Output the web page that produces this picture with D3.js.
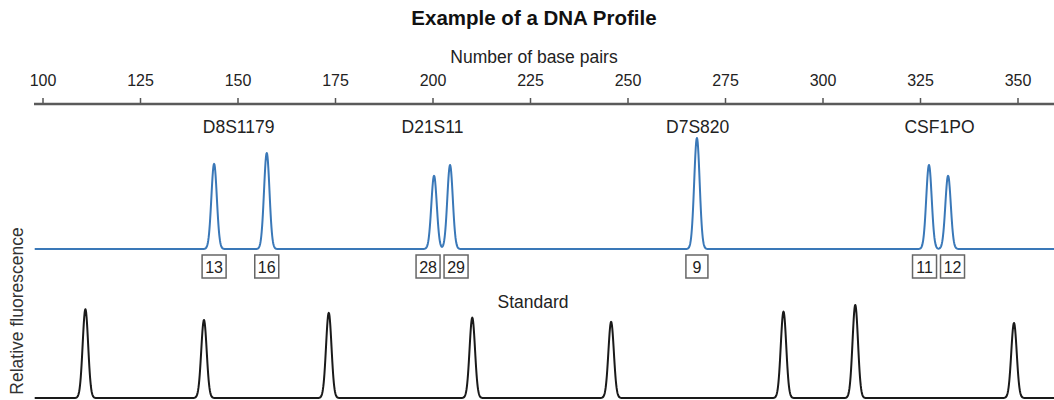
<!DOCTYPE html>
<html>
<head>
<meta charset="utf-8">
<script src="https://cdn.jsdelivr.net/npm/d3@7"></script>
<style>
  body { margin:0; background:#fff; }
  svg { display:block; font-family:"Liberation Sans", Arial, sans-serif; }
</style>
</head>
<body>
<div id="chart"></div>
<script>
//DATA
//Axis ticks (base pairs)
const tickValues = [100, 125, 150, 175, 200, 225, 250, 275, 300, 325, 350];

//Sample peaks (blue trace)
const sampleBp     = [144.0, 157.5, 200.4, 204.5, 267.8, 327.3, 332.2];
const sampleHeight = [710, 800, 610, 700, 925, 700, 610];
const sampleAllele = ["13", "16", "28", "29", "9", "11", "12"];

//Loci names and where they sit
const lociNames = ["D8S1179", "D21S11", "D7S820", "CSF1PO"];
const lociBp    = [150.3, 200, 268, 330];

//Standard ladder peaks (black trace)
const standardBp     = [111.0, 141.4, 173.4, 210.2, 245.8, 290.0, 308.4, 349.1];
const standardHeight = [740, 650, 710, 670, 635, 720, 775, 625];

//LAYOUT AND SIZING
const W = 1054, H = 400;
const axisY = 104;
const blueBase = 249;
const blackBase = 398;
const peakPx = 120;      // pixels for 1000 units of fluorescence
const sigma = 0.7;       // peak width in base pairs

const svg = d3.select("#chart").append("svg")
  .attr("width", W).attr("height", H);

//Scales
const x = d3.scaleLinear().domain([100, 350]).range([42.5, 1017.5]);
const yBlue  = d3.scaleLinear().domain([0, 1000]).range([blueBase, blueBase - peakPx]);
const yBlack = d3.scaleLinear().domain([0, 1000]).range([blackBase, blackBase - peakPx]);

//Title + axis label
svg.append("text").attr("x", 534).attr("y", 25)
  .attr("text-anchor", "middle").attr("font-size", 20.5).attr("font-weight", "bold")
  .attr("fill", "#111").text("Example of a DNA Profile");

svg.append("text").attr("x", 534).attr("y", 63)
  .attr("text-anchor", "middle").attr("font-size", 17.5)
  .attr("fill", "#222").text("Number of base pairs");

//Top axis
const axisG = svg.append("g").attr("transform", `translate(0,${axisY})`)
  .call(d3.axisTop(x).tickValues(tickValues).tickSize(6).tickPadding(12));
axisG.select(".domain").remove();
axisG.selectAll(".tick line").attr("stroke", "#555").attr("stroke-width", 1.5);
axisG.selectAll(".tick text").attr("font-size", 16).attr("fill", "#222")
  .attr("font-family", "Liberation Sans, Arial, sans-serif");
axisG.append("line").attr("x1", 34).attr("x2", W).attr("y1", 0).attr("y2", 0)
  .attr("stroke", "#5a5a5a").attr("stroke-width", 2.5);

//Loci labels
svg.append("g").selectAll("text").data(lociNames).join("text")
  .attr("x", (d, i) => x(lociBp[i])).attr("y", 133)
  .attr("text-anchor", "middle").attr("font-size", 17.5).attr("fill", "#222")
  .text(d => d);

//Trace built from the peak list
const xs = d3.range(98, 361, 0.1);
function trace(bps, hs){
  return xs.map(v => [v, d3.sum(bps, (b, i) => hs[i] * Math.exp(-0.5 * ((v - b) / sigma) ** 2))]);
}

const lineBlue = d3.line().x(d => x(d[0])).y(d => yBlue(d[1]));
const lineBlack = d3.line().x(d => x(d[0])).y(d => yBlack(d[1]));

svg.append("path").datum(trace(sampleBp, sampleHeight))
  .attr("d", lineBlue).attr("fill", "none")
  .attr("stroke", "#3a78b8").attr("stroke-width", 2).attr("stroke-linejoin", "round");

svg.append("path").datum(trace(standardBp, standardHeight))
  .attr("d", lineBlack).attr("fill", "none")
  .attr("stroke", "#1a1a1a").attr("stroke-width", 2).attr("stroke-linejoin", "round");

//Allele boxes, pushed apart where they would overlap
const gapBox = 4;
const boxes = sampleAllele.map((a, i) => ({label: a, cx: x(sampleBp[i]), w: a.length > 1 ? 24 : 22}));
for (let i = 1; i < boxes.length; i++){
  const a = boxes[i - 1], b = boxes[i];
  const need = a.w / 2 + b.w / 2 + gapBox;
  if (b.cx - a.cx < need){
    const mid = (a.cx + b.cx) / 2;
    a.cx = mid - need / 2;
    b.cx = mid + need / 2;
  }
}
const boxG = svg.append("g").selectAll("g").data(boxes).join("g")
  .attr("transform", d => `translate(${d.cx},255)`);
boxG.append("rect")
  .attr("x", d => -d.w / 2).attr("y", 0).attr("width", d => d.w).attr("height", 23)
  .attr("fill", "#fff").attr("stroke", "#666").attr("stroke-width", 1.5);
boxG.append("text").attr("x", 0).attr("y", 17.5)
  .attr("text-anchor", "middle").attr("font-size", 16).attr("fill", "#222")
  .text(d => d.label);

//Standard label
svg.append("text").attr("x", 533).attr("y", 308)
  .attr("text-anchor", "middle").attr("font-size", 17.5).attr("fill", "#222")
  .text("Standard");

//Y label
svg.append("text").attr("transform", "translate(23,311) rotate(-90)")
  .attr("text-anchor", "middle").attr("font-size", 17.5).attr("fill", "#333")
  .text("Relative fluorescence");
</script>
</body>
</html>
